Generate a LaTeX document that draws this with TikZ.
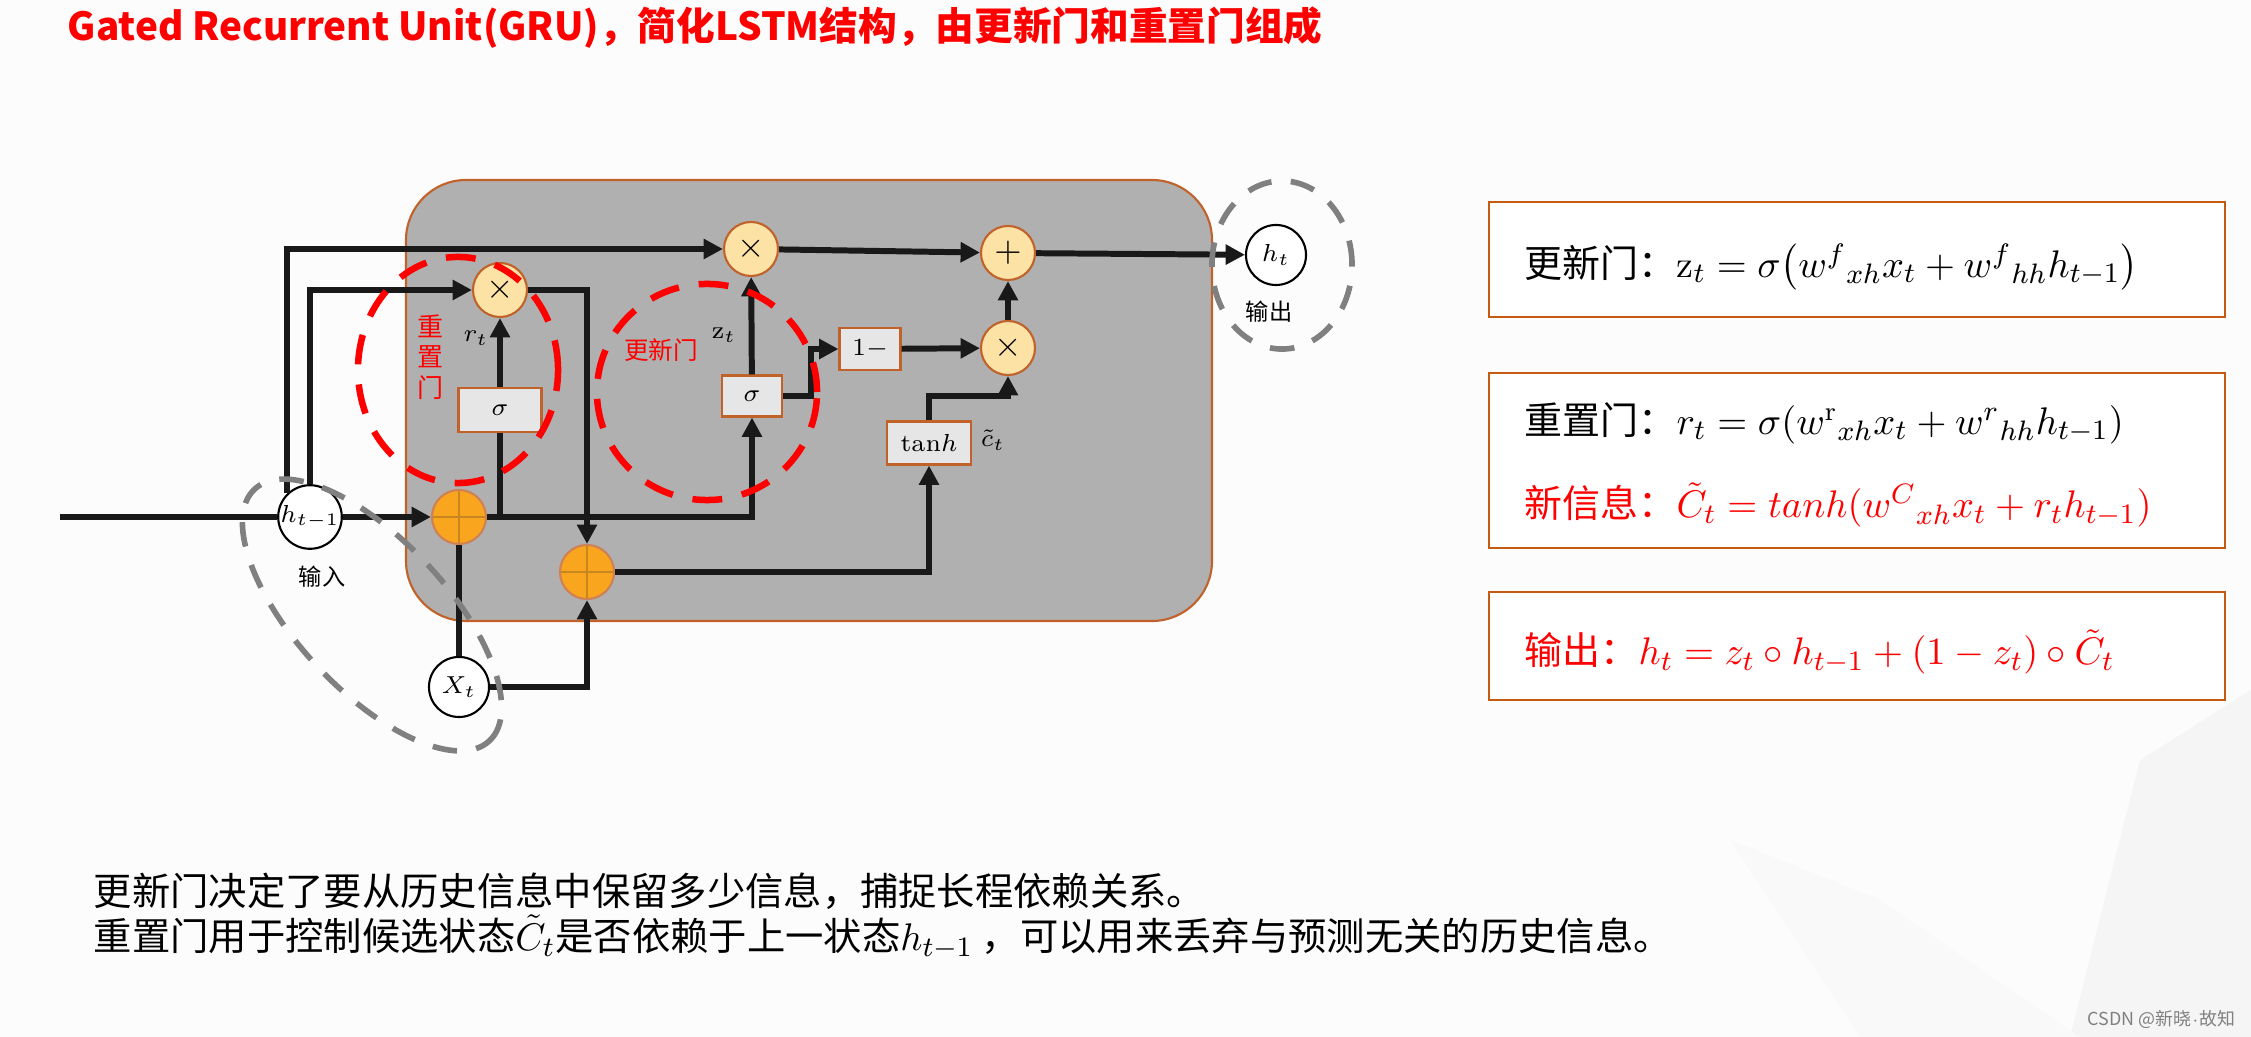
\documentclass[tikz,border=0pt]{standalone}
\usepackage{amsmath}
\usepackage{fontspec}
\usepackage{tikz}
\usetikzlibrary{arrows.meta,calc}
\newfontfamily\cjk{Noto Sans CJK SC}
\definecolor{cellgray}{HTML}{B0B0B0}
\definecolor{rim}{HTML}{C0622A}
\definecolor{addfill}{HTML}{F9A51E}
\definecolor{addline}{HTML}{C8861E}
\definecolor{mulfill}{HTML}{FDE2A6}
\definecolor{boxfill}{HTML}{E6E6E6}
\definecolor{gatered}{HTML}{FF0000}
\definecolor{dashgray}{HTML}{808080}
\definecolor{frame}{HTML}{C55A11}

\tikzset{
  wire/.style={line width=1.7pt, black!90},
  arr/.style={wire, -{Triangle[length=5.5pt,width=5.5pt]}},
  state/.style={circle, draw=black, fill=white, line width=0.6pt, minimum size=0.6cm, inner sep=0pt, font=\fontsize{7pt}{8pt}\selectfont},
  mul/.style={circle, draw=rim, fill=mulfill, line width=0.6pt, minimum size=0.54cm, inner sep=0pt, font=\fontsize{10pt}{11pt}\selectfont},
  add/.style={circle, draw=rim!80, fill=addfill, line width=0.6pt, minimum size=0.54cm, inner sep=0pt,
    path picture={\draw[addline, line width=0.5pt]
      (path picture bounding box.north) -- (path picture bounding box.south)
      (path picture bounding box.west) -- (path picture bounding box.east);}},
  gatebox/.style={draw=rim, fill=boxfill, line width=0.6pt, inner sep=0pt, font=\fontsize{7pt}{8pt}\selectfont},
  lbl/.style={font=\fontsize{7pt}{8pt}\selectfont},
  redtag/.style={text=gatered, font=\cjk\fontsize{7pt}{8pt}\selectfont},
  graytag/.style={font=\cjk\fontsize{6.6pt}{8pt}\selectfont},
  reddash/.style={draw=gatered, line width=1.85pt, dash pattern=on 8.5pt off 5.7pt},
  graydash/.style={draw=dashgray, line width=1.6pt, dash pattern=on 7pt off 5.5pt},
  fbox/.style={draw=frame, line width=0.75pt, fill=white},
  formula/.style={anchor=west, inner sep=0pt, font=\cjk\fontsize{10.8pt}{13pt}\selectfont},
  note/.style={anchor=west, inner sep=0pt, font=\cjk\fontsize{10.9pt}{13pt}\selectfont}
}

\begin{document}
\begin{tikzpicture}[x=0.01cm, y=-0.01cm]
    \useasboundingbox (0,0) rectangle (2251,1037);
    \fill[white!98!gray] (0,0) rectangle (2251,1037);
    % Background
    \fill[black!4] (2140,760) -- (2251,690) -- (2251,1037) -- (2070,1037) -- cycle;
    \fill[black!2.5] (1730,840) -- (1880,900) -- (2080,1037) -- (1860,1037) -- cycle;

    % Title
    \node[anchor=west, inner sep=0pt, text=gatered, font=\cjk\bfseries\fontsize{11pt}{13pt}\selectfont] (title) at (67,28)
      {Gated Recurrent Unit(GRU)，简化LSTM结构，由更新门和重置门组成};

    % GRU cell
    \draw[draw=rim, line width=0.6pt, fill=cellgray, rounded corners=0.6cm] (406,180) rectangle (1212,621);

    % Nodes
    \coordinate (in) at (60,517);
    \node[state] (hprev) at (310,517) {$h_{t-1}$};
    \node[state] (xt) at (459,687) {$X_t$};
    \node[state] (ht) at (1276,255) {$h_t$};
    \node[add] (addA) at (459,517) {};
    \node[add] (addB) at (587,572) {};
    \node[mul] (mulR) at (500,290) {$\times$};
    \node[mul] (mulZ) at (751,249) {$\times$};
    \node[mul] (mulC) at (1008,348) {$\times$};
    \node[mul] (plus) at (1008,253) {$+$};
    \node[gatebox, minimum width=0.83cm, minimum height=0.44cm] (sigR) at (500,410) {$\sigma$};
    \node[gatebox, minimum width=0.60cm, minimum height=0.41cm] (sigZ) at (752,396) {$\sigma$};
    \node[gatebox, minimum width=0.61cm, minimum height=0.42cm] (oneminus) at (870,349) {$1-$};
    \node[gatebox, minimum width=0.84cm, minimum height=0.43cm] (tanhbox) at (929,443) {$\mathrm{tan}h$};

    % Paths
    \draw[wire] (in) -- (hprev);
    \draw[arr] (hprev) -- (addA);
    \draw[arr] (hprev.134) |- (mulZ);
    \draw[arr] (hprev.north) |- (mulR);
    \draw[arr] (mulR) -| (addB);
    \draw[wire] (xt) -- (addA);
    \draw[arr] (xt) -| (addB);
    \draw[arr] (addA) -| (sigZ);
    \draw[wire] (sigR.south |- addA) -- (sigR);
    \draw[arr] (sigR) -- (mulR);
    \draw[arr] (sigZ) -- (mulZ);
    \draw[arr] (sigZ.east) -- ++(28,0) |- (oneminus);
    \draw[arr] (oneminus) -- (mulC);
    \draw[arr] (mulZ) -- (plus);
    \draw[arr] (mulC) -- (plus);
    \draw[arr] (plus) -- (ht);
    \draw[arr] (addB) -| (tanhbox);
    \draw[arr] (tanhbox.north) -- ++(0,-24) -| (mulC);

    % Labels
    \node[lbl] (rt) at (476,338) {$r_t$};
    \node[lbl] (zt) at (724,335) {$\mathrm{z}_t$};
    \node[lbl] (ct) at (993,440) {$\tilde{c}_t$};
    \node[redtag, align=center, font=\cjk\fontsize{7.4pt}{8.6pt}\selectfont] (resettag) at (431,357) {重\\置\\门};
    \node[redtag] (updatetag) at (661,350) {更新门};
    \node[graytag] (intag) at (322,577) {输入};
    \node[graytag] (outtag) at (1269,312) {输出};

    % Dashed groups
    \draw[reddash] (458,370) ellipse [x radius=1cm, y radius=1.13cm];
    \draw[reddash] (707,392) ellipse [x radius=1.1cm, y radius=1.08cm];
    \draw[graydash] (1282,265) ellipse [x radius=0.7cm, y radius=0.84cm];
    \draw[graydash, rotate around={-47:(372,615)}] (372,615) ellipse [x radius=1.72cm, y radius=0.75cm];

    % Formula boxes
    \draw[fbox] (1489,202) rectangle (2225,317);
    \draw[fbox] (1489,373) rectangle (2225,548);
    \draw[fbox] (1489,592) rectangle (2225,700);
    \node[formula] (fz) at (1524,267) {更新门：$\mathrm{z}_t = \sigma\bigl(w^{f}{}_{xh}x_t + w^{f}{}_{hh}h_{t-1}\bigr)$};
    \node[formula] (fr) at (1524,423) {重置门：$r_t = \sigma(w^{\mathrm{r}}{}_{xh}x_t + w^{r}{}_{hh}h_{t-1})$};
    \node[formula, text=gatered] (fc) at (1524,505) {新信息：$\tilde{C}_t = tanh(w^{C}{}_{xh}x_t + r_t h_{t-1})$};
    \node[formula, text=gatered] (fh) at (1524,652) {输出：$h_t = z_t \circ h_{t-1} + (1 - z_t) \circ \tilde{C}_t$};

    % Notes
    \node[note] (note1) at (93,891) {更新门决定了要从历史信息中保留多少信息，捕捉长程依赖关系。};
    \node[note] (note2) at (93,937) {重置门用于控制候选状态$\tilde{C}_t$是否依赖于上一状态$h_{t-1}$\ ，可以用来丢弃与预测无关的历史信息。};
    \node[anchor=east, inner sep=0pt, text=gray, font=\cjk\fontsize{5.1pt}{6pt}\selectfont] (mark) at (2236,1019) {CSDN @新晓$\cdot$故知};
\end{tikzpicture}
\end{document}
